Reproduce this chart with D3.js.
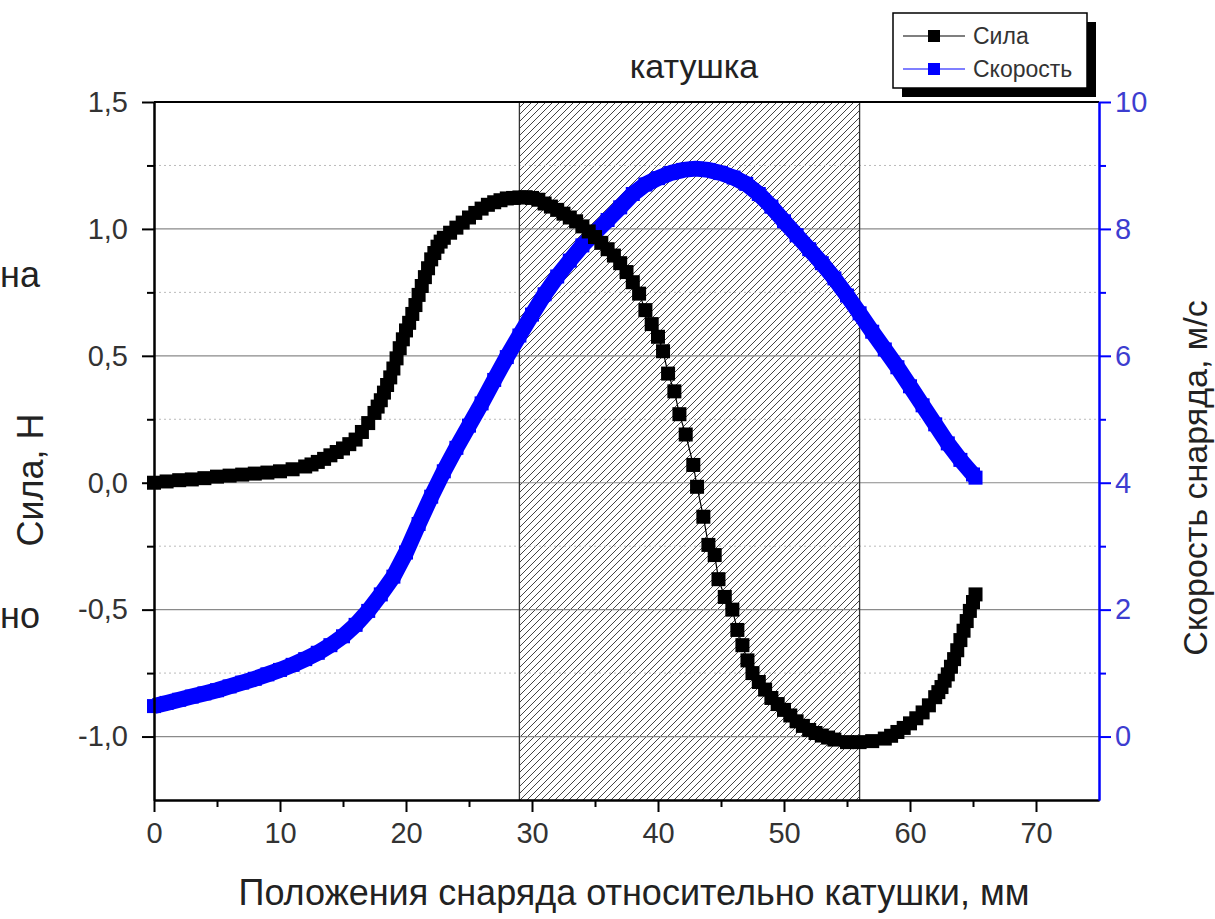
<!DOCTYPE html>
<html>
<head>
<meta charset="utf-8">
<script src="https://cdn.jsdelivr.net/npm/d3@7"></script>
<style>
body { margin: 0; background: #fff; }
svg text { font-family: "Liberation Sans", Arial, sans-serif; }
</style>
</head>
<body>
<div id="chart"></div>
<script>
var svgWidth = 1215
var svgHeight = 919

var margin = {
    top: 102,
    bottom: 119,
    right: 116,
    left: 154
}

var width = svgWidth - margin.left - margin.right;
var height = svgHeight - margin.top - margin.bottom;

// Сила, Н (black squares)
var forcePos = [0, 1, 2, 3, 4, 5, 6, 7, 8, 9, 10, 11, 12, 12.5, 13, 13.5, 14, 14.5, 15, 15.5,
    16, 16.5, 17, 17.5, 17.75, 18, 18.25, 18.5, 18.75, 19, 19.25, 19.5, 19.75, 20, 20.25, 20.5,
    20.75, 21, 21.25, 21.5, 21.75, 22, 22.25, 22.5, 22.75, 23, 23.5, 24, 24.5, 25, 25.5, 26,
    26.5, 27, 27.5, 28, 28.5, 29, 29.5, 30, 30.5, 31, 31.5, 32, 32.5, 33, 33.5, 34, 34.5, 35,
    35.5, 36, 36.5, 37, 37.5, 38, 38.5, 39, 39.5, 40, 40.4, 40.8, 41.3, 41.7, 42.2, 42.8, 43.1,
    43.6, 44.0, 44.5, 44.8, 45.3, 45.9, 46.3, 46.7, 47.1, 47.5, 48, 48.5, 49, 49.5, 50, 50.5,
    51, 51.5, 52, 52.5, 53, 53.5, 54, 55, 56, 57, 58, 58.5, 59, 59.5, 60, 60.5, 61, 61.5, 62,
    62.25, 62.5, 62.75, 63, 63.25, 63.5, 63.75, 64, 64.25, 64.5, 64.75, 65, 65.2];
var forceVal = [0.0, 0.005, 0.01, 0.013, 0.018, 0.024, 0.028, 0.032, 0.036, 0.04, 0.045, 0.053,
    0.064, 0.072, 0.082, 0.094, 0.108, 0.121, 0.135, 0.152, 0.17, 0.2, 0.235, 0.275, 0.3, 0.325,
    0.355, 0.385, 0.415, 0.45, 0.49, 0.53, 0.565, 0.6, 0.63, 0.665, 0.7, 0.74, 0.775, 0.81, 0.845,
    0.88, 0.905, 0.93, 0.95, 0.965, 0.985, 1.005, 1.025, 1.045, 1.063, 1.08, 1.095, 1.105, 1.113,
    1.12, 1.122, 1.124, 1.125, 1.122, 1.115, 1.1, 1.088, 1.075, 1.06, 1.045, 1.03, 1.01, 0.99,
    0.968, 0.945, 0.92, 0.895, 0.865, 0.83, 0.79, 0.745, 0.68, 0.625, 0.575, 0.518, 0.43, 0.36,
    0.27, 0.19, 0.07, -0.016, -0.134, -0.245, -0.285, -0.38, -0.45, -0.5, -0.58, -0.64, -0.7,
    -0.75, -0.785, -0.815, -0.848, -0.872, -0.895, -0.917, -0.94, -0.958, -0.974, -0.986, -0.996,
    -1.004, -1.012, -1.022, -1.022, -1.018, -1.008, -0.997, -0.982, -0.966, -0.948, -0.928,
    -0.905, -0.877, -0.845, -0.825, -0.805, -0.78, -0.755, -0.725, -0.695, -0.66, -0.62, -0.583,
    -0.545, -0.505, -0.47, -0.44];

// Скорость снаряда, м/с (blue squares)
var speedPos = [0, 1, 2, 3, 4, 5, 6, 7, 8, 9, 10, 11, 12, 13, 14, 15, 16, 17, 18, 19, 20, 21, 22,
    23, 24, 25, 26, 27, 28, 29, 30, 31, 32, 33, 34, 35, 36, 37, 38, 39, 40, 41, 42, 43, 44, 45,
    46, 47, 48, 49, 50, 51, 52, 53, 54, 55, 56, 57, 58, 59, 60, 61, 62, 63, 64, 65, 65.2];
var speedVal = [0.48, 0.53, 0.58, 0.63, 0.68, 0.73, 0.79, 0.85, 0.91, 0.98, 1.05, 1.13, 1.22,
    1.32, 1.44, 1.58, 1.76, 1.98, 2.24, 2.52, 2.9, 3.35, 3.78, 4.18, 4.55, 4.9, 5.25, 5.62, 5.98,
    6.32, 6.65, 6.97, 7.25, 7.5, 7.74, 7.94, 8.14, 8.34, 8.55, 8.7, 8.8, 8.88, 8.93, 8.95, 8.93,
    8.88, 8.81, 8.71, 8.55, 8.35, 8.12, 7.9, 7.68, 7.46, 7.22, 6.95, 6.67, 6.38, 6.1, 5.82, 5.52,
    5.22, 4.92, 4.62, 4.36, 4.13, 4.08];

var coilRange = [29, 56];

var xTicks = [0, 10, 20, 30, 40, 50, 60, 70];
var xMinorTicks = [5, 15, 25, 35, 45, 55, 65];
var leftTicks = [-1, -0.5, 0, 0.5, 1, 1.5];
var leftTickLabels = ["-1,0", "-0,5", "0,0", "0,5", "1,0", "1,5"];
var leftMinorTicks = [-0.75, -0.25, 0.25, 0.75, 1.25];
var rightTicks = [0, 2, 4, 6, 8, 10];
var rightMinorTicks = [1, 3, 5, 7, 9];

var seriesNames = ["Сила", "Скорость"];
var seriesColors = ["#000000", "#0000ff"];

var svg = d3.select("#chart")
    .append("svg")
    .attr("width", svgWidth)
    .attr("height", svgHeight);

var defs = svg.append("defs");
defs.append("pattern")
    .attr("id", "hatch")
    .attr("patternUnits", "userSpaceOnUse")
    .attr("width", 7)
    .attr("height", 7)
    .append("path")
    .attr("d", "M-1,1 l2,-2 M0,7 l7,-7 M6,8 l2,-2")
    .attr("stroke", "#444")
    .attr("stroke-width", 1);

var chartGroup = svg.append("g")
    .attr("transform", `translate(${margin.left}, ${margin.top})`);

var xScale = d3.scaleLinear().domain([0, 75]).range([0, width]);
var yLeft = d3.scaleLinear().domain([-1.25, 1.5]).range([height, 0]);
var yRight = d3.scaleLinear().domain([-1, 10]).range([height, 0]);

// coil zone
chartGroup.append("rect")
    .attr("x", xScale(coilRange[0]))
    .attr("y", 0)
    .attr("width", xScale(coilRange[1]) - xScale(coilRange[0]))
    .attr("height", height)
    .attr("fill", "url(#hatch)");

// grid
chartGroup.selectAll(".gridMajor")
    .data(leftTicks.filter(d => d < 1.5))
    .enter()
    .append("line")
    .attr("x1", 0).attr("x2", width)
    .attr("y1", d => yLeft(d)).attr("y2", d => yLeft(d))
    .attr("stroke", "#8a8a8a")
    .attr("stroke-width", 1.2);

chartGroup.selectAll(".gridMinor")
    .data(leftMinorTicks)
    .enter()
    .append("line")
    .attr("x1", 0).attr("x2", width)
    .attr("y1", d => yLeft(d)).attr("y2", d => yLeft(d))
    .attr("stroke", "#bbbbbb")
    .attr("stroke-width", 1)
    .attr("stroke-dasharray", "2,3");

chartGroup.selectAll(".coilEdge")
    .data(coilRange)
    .enter()
    .append("line")
    .attr("x1", d => xScale(d)).attr("x2", d => xScale(d))
    .attr("y1", 0).attr("y2", height)
    .attr("stroke", "#333")
    .attr("stroke-width", 1.3);

// speed series
var speedData = speedPos.map((p, i) => ({ x: p, y: speedVal[i] }));
var speedLine = d3.line().x(d => xScale(d.x)).y(d => yRight(d.y));

chartGroup.append("path")
    .datum(speedData)
    .attr("d", speedLine)
    .attr("fill", "none")
    .attr("stroke", seriesColors[1])
    .attr("stroke-width", 16)
    .attr("stroke-linejoin", "round");

chartGroup.selectAll(".speedPt")
    .data(speedData)
    .enter()
    .append("rect")
    .attr("x", d => xScale(d.x) - 7)
    .attr("y", d => yRight(d.y) - 7)
    .attr("width", 14)
    .attr("height", 14)
    .attr("fill", seriesColors[1]);

// force series
var forceData = forcePos.map((p, i) => ({ x: p, y: forceVal[i] }));
var forceLine = d3.line().x(d => xScale(d.x)).y(d => yLeft(d.y));

chartGroup.append("path")
    .datum(forceData)
    .attr("d", forceLine)
    .attr("fill", "none")
    .attr("stroke", seriesColors[0])
    .attr("stroke-width", 1.2);

chartGroup.selectAll(".forcePt")
    .data(forceData)
    .enter()
    .append("rect")
    .attr("x", d => xScale(d.x) - 7)
    .attr("y", d => yLeft(d.y) - 7)
    .attr("width", 14)
    .attr("height", 14)
    .attr("fill", seriesColors[0]);

// axes
function styleAxis(g, color) {
    g.select(".domain").attr("stroke", color).attr("stroke-width", 2);
    g.selectAll(".tick line").attr("stroke", color).attr("stroke-width", 2);
    g.selectAll(".tick text")
        .attr("font-family", '"Liberation Sans", Arial, sans-serif')
        .attr("font-size", 29)
        .attr("fill", color === "#000" ? "#333" : "#3d3dd0");
}

var bottomAxis = chartGroup.append("g")
    .attr("transform", `translate(0, ${height})`)
    .call(d3.axisBottom(xScale).tickValues(xTicks).tickSize(12).tickSizeOuter(0).tickPadding(10));
styleAxis(bottomAxis, "#000");
chartGroup.append("g")
    .attr("transform", `translate(0, ${height})`)
    .call(d3.axisBottom(xScale).tickValues(xMinorTicks).tickSize(7).tickSizeOuter(0).tickFormat(""))
    .call(g => styleAxis(g, "#000"));

chartGroup.append("line")
    .attr("x1", 0).attr("x2", width)
    .attr("y1", 0).attr("y2", 0)
    .attr("stroke", "#000")
    .attr("stroke-width", 2);

var leftAxis = chartGroup.append("g")
    .call(d3.axisLeft(yLeft).tickValues(leftTicks).tickFormat((d, i) => leftTickLabels[i])
        .tickSize(12).tickSizeOuter(0).tickPadding(14));
styleAxis(leftAxis, "#000");
chartGroup.append("g")
    .call(d3.axisLeft(yLeft).tickValues(leftMinorTicks).tickSize(7).tickSizeOuter(0).tickFormat(""))
    .call(g => styleAxis(g, "#000"));

var rightAxis = chartGroup.append("g")
    .attr("transform", `translate(${width}, 0)`)
    .call(d3.axisRight(yRight).tickValues(rightTicks).tickSize(12).tickSizeOuter(0).tickPadding(4));
styleAxis(rightAxis, "#0000ff");
chartGroup.append("g")
    .attr("transform", `translate(${width}, 0)`)
    .call(d3.axisRight(yRight).tickValues(rightMinorTicks).tickSize(7).tickSizeOuter(0).tickFormat(""))
    .call(g => styleAxis(g, "#0000ff"));

// texts
svg.append("text")
    .attr("x", 694)
    .attr("y", 78)
    .attr("text-anchor", "middle")
    .attr("font-size", 34)
    .attr("fill", "#222")
    .text("катушка");

svg.append("text")
    .attr("transform", "translate(43, 480) rotate(-90)")
    .attr("text-anchor", "middle")
    .attr("font-size", 36)
    .attr("fill", "#222")
    .text("Сила, Н");

svg.append("text")
    .attr("transform", "translate(1207, 478) rotate(-90)")
    .attr("text-anchor", "middle")
    .attr("font-size", 34)
    .attr("fill", "#222")
    .text("Скорость снаряда, м/с");

svg.append("text")
    .attr("x", 634)
    .attr("y", 905)
    .attr("text-anchor", "middle")
    .attr("font-size", 36)
    .attr("fill", "#222")
    .text("Положения снаряда относительно катушки, мм");

// word fragments at the left edge
svg.append("text")
    .attr("x", 0).attr("y", 287)
    .attr("font-size", 36)
    .attr("fill", "#222")
    .text("на");
svg.append("text")
    .attr("x", 0).attr("y", 628)
    .attr("font-size", 36)
    .attr("fill", "#222")
    .text("но");

// legend
var legend = svg.append("g").attr("transform", "translate(893, 13)");
legend.append("rect")
    .attr("x", 9).attr("y", 9)
    .attr("width", 194).attr("height", 75)
    .attr("fill", "#000");
legend.append("rect")
    .attr("x", 0).attr("y", 0)
    .attr("width", 194).attr("height", 75)
    .attr("fill", "#fff")
    .attr("stroke", "#000")
    .attr("stroke-width", 1.5);

var legendRows = legend.selectAll(".legendRow")
    .data(seriesNames)
    .enter()
    .append("g")
    .attr("transform", (d, i) => `translate(0, ${23 + i * 33})`);

legendRows.append("line")
    .attr("x1", 10).attr("x2", 72)
    .attr("y1", 0).attr("y2", 0)
    .attr("stroke", (d, i) => seriesColors[i])
    .attr("stroke-width", 1.2);
legendRows.append("rect")
    .attr("x", 35).attr("y", -6)
    .attr("width", 12).attr("height", 12)
    .attr("fill", (d, i) => seriesColors[i]);
legendRows.append("text")
    .attr("x", 80)
    .attr("y", 8)
    .attr("font-size", 23)
    .attr("fill", "#333")
    .text(d => d);
</script>
</body>
</html>
